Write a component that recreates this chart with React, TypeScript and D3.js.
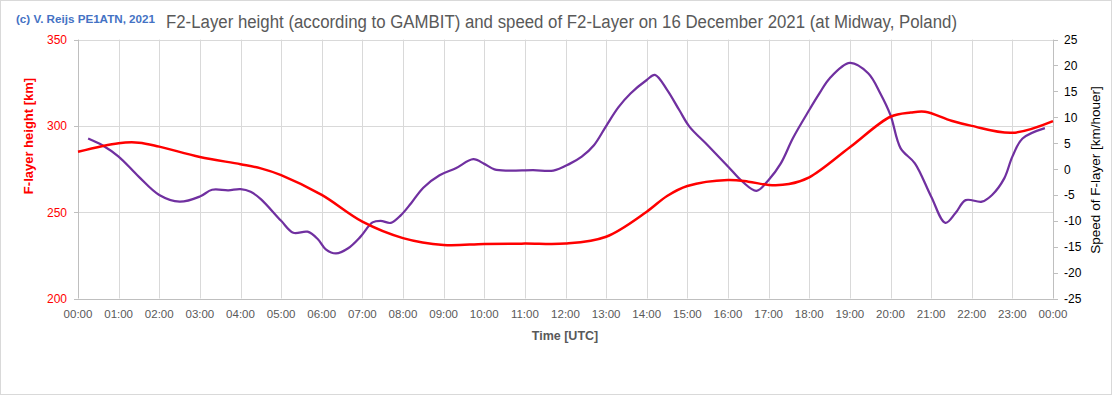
import React, { useEffect, useRef } from "react";
import * as d3 from "d3";

// F2-layer height (km), left axis
const heightHours = [0, 1, 1.5, 2, 3, 4, 4.5, 5, 6, 7, 8, 9, 10, 11, 12, 13, 14, 14.5, 15, 16, 16.5, 17, 17.5, 18, 19, 20, 20.5, 20.85, 21.5, 22, 23, 24];
const heightKm = [285, 290, 290.3, 288, 282, 277.8, 275.4, 271.5, 260, 244.5, 235, 231, 231.6, 231.8, 231.8, 235.8, 250.3, 259.4, 265.2, 268.7, 267.7, 265.8, 266.3, 270.2, 287.6, 305.3, 307.7, 308.2, 303, 300, 296, 302.8];

// speed of F2-layer (km/hour), right axis
const speedHours = [0.25, 0.6, 1, 1.5, 2, 2.5, 3, 3.3, 3.7, 4, 4.25, 4.5, 5, 5.3, 5.65, 5.9, 6.1, 6.35, 6.65, 6.95, 7.25, 7.45, 7.7, 7.95, 8.2, 8.5, 8.9, 9.3, 9.73, 10, 10.25, 10.6, 11.2, 11.7, 12.1, 12.4, 12.7, 13, 13.3, 13.6, 14, 14.2, 14.5, 14.8, 15.05, 15.5, 16, 16.35, 16.7, 17, 17.3, 17.6, 18, 18.25, 18.5, 19, 19.45, 19.75, 20, 20.25, 20.6, 21, 21.35, 21.6, 21.85, 22.25, 22.5, 22.8, 23, 23.25, 23.8];
const speedKmh = [5.9, 4.6, 2.4, -1.5, -5.0, -6.3, -5.3, -4.0, -4.1, -3.9, -4.4, -5.8, -10.0, -12.3, -12.1, -13.5, -15.5, -16.3, -15.3, -13.1, -10.3, -10.0, -10.4, -8.9, -6.6, -3.6, -1.2, 0.15, 1.9, 1.0, -0.05, -0.3, -0.2, -0.3, 1.0, 2.4, 4.6, 8.3, 11.9, 14.6, 17.2, 18.2, 15.3, 11.4, 8.2, 4.6, 0.5, -2.4, -4.2, -2.1, 1.1, 6.0, 11.4, 14.6, 17.5, 20.5, 18.5, 14.6, 10.4, 4.0, 1.1, -5.3, -10.4, -8.5, -6.0, -6.3, -5.0, -1.8, 2.4, 5.9, 7.9];

const hourLabels = d3.range(0, 25).map((h) => `${String(h % 24).padStart(2, "0")}:00`);
const leftTicks = [200, 250, 300, 350];
const rightTicks = d3.range(-25, 26, 5);

const W = 1113;
const H = 397;
const font = "'Liberation Sans', Arial, sans-serif";

export default function App() {
  const ref = useRef<SVGSVGElement>(null);

  useEffect(() => {
    document.body.style.margin = "0";
    const svg = d3.select(ref.current);
    svg.selectAll("*").remove();

    const left = 78, right = 1053, top = 39.6, bottom = 298.5;
    const x = d3.scaleLinear().domain([0, 24]).range([left, right]);
    const yL = d3.scaleLinear().domain([200, 350]).range([bottom, top]);
    const yR = d3.scaleLinear().domain([-25, 25]).range([bottom, top]);

    // chart border
    svg.append("rect")
      .attr("x", 0.5).attr("y", 0.5).attr("width", W - 2).attr("height", H - 3)
      .attr("fill", "white").attr("stroke", "#d9d9d9");

    // gridlines
    const grid = svg.append("g").attr("stroke", "#d9d9d9").attr("stroke-width", 1);
    grid.selectAll("line.v")
      .data(d3.range(1, 24))
      .join("line")
      .attr("x1", (d) => Math.round(x(d)) + 0.5).attr("x2", (d) => Math.round(x(d)) + 0.5)
      .attr("y1", top).attr("y2", bottom);
    grid.selectAll("line.h")
      .data([250, 300, 350])
      .join("line")
      .attr("x1", left).attr("x2", right)
      .attr("y1", (d) => Math.round(yL(d)) + 0.5).attr("y2", (d) => Math.round(yL(d)) + 0.5);

    // axis lines
    const ax = svg.append("g").attr("stroke", "#bfbfbf");
    ax.append("line").attr("x1", left + 0.5).attr("x2", left + 0.5).attr("y1", top).attr("y2", bottom);
    ax.append("line").attr("x1", right + 0.5).attr("x2", right + 0.5).attr("y1", top).attr("y2", bottom);
    ax.append("line").attr("x1", left).attr("x2", right).attr("y1", Math.round(bottom) + 0.5).attr("y2", Math.round(bottom) + 0.5);
    ax.selectAll("line.lt").data(leftTicks).join("line")
      .attr("x1", left - 4).attr("x2", left)
      .attr("y1", (d) => Math.round(yL(d)) + 0.5).attr("y2", (d) => Math.round(yL(d)) + 0.5);
    ax.selectAll("line.rt").data(rightTicks).join("line")
      .attr("x1", right).attr("x2", right + 5)
      .attr("y1", (d) => Math.round(yR(d)) + 0.5).attr("y2", (d) => Math.round(yR(d)) + 0.5);

    // tick labels
    svg.append("g").selectAll("text").data(leftTicks).join("text")
      .attr("x", 67).attr("y", (d) => yL(d) + 4.5)
      .attr("text-anchor", "end").attr("fill", "#ff0000")
      .style("font", `12px ${font}`).text((d) => d);
    svg.append("g").selectAll("text").data(rightTicks).join("text")
      .attr("x", 1064).attr("y", (d) => yR(d) + 4.5)
      .attr("fill", "#000").style("font", `12px ${font}`).text((d) => d);
    svg.append("g").selectAll("text").data(hourLabels).join("text")
      .attr("x", (d, i) => x(i)).attr("y", 318)
      .attr("text-anchor", "middle").attr("fill", "#595959")
      .style("font", `11.5px ${font}`).text((d) => d);

    // titles
    svg.append("text").attr("x", 166).attr("y", 28)
      .attr("fill", "#595959").attr("textLength", 791).attr("lengthAdjust", "spacingAndGlyphs")
      .style("font", `18px ${font}`)
      .text("F2-Layer height (according to GAMBIT) and speed of F2-Layer on 16 December 2021 (at Midway, Poland)");
    svg.append("text").attr("x", 16).attr("y", 23)
      .attr("fill", "#4472c4").style("font", `bold 11.5px ${font}`)
      .attr("textLength", 139).attr("lengthAdjust", "spacingAndGlyphs")
      .text("(c) V. Reijs  PE1ATN, 2021");
    svg.append("text").attr("x", 565).attr("y", 340)
      .attr("text-anchor", "middle").attr("fill", "#595959")
      .style("font", `bold 12.5px ${font}`).text("Time [UTC]");
    svg.append("text")
      .attr("transform", "translate(33,136) rotate(-90)")
      .attr("text-anchor", "middle").attr("fill", "#ff0000")
      .style("font", `bold 13px ${font}`).text("F-layer height [km]");
    svg.append("text")
      .attr("transform", "translate(1100,170) rotate(-90)")
      .attr("text-anchor", "middle").attr("fill", "#000")
      .style("font", `13.5px ${font}`).text("Speed of F-layer [km/houer]");

    // series
    const lineL = d3.line<number>()
      .x((d, i) => x(heightHours[i])).y((d) => yL(d))
      .curve(d3.curveCatmullRom.alpha(0.5));
    const lineR = d3.line<number>()
      .x((d, i) => x(speedHours[i])).y((d) => yR(d))
      .curve(d3.curveCatmullRom.alpha(0.5));

    svg.append("path").datum(speedKmh)
      .attr("d", lineR).attr("fill", "none")
      .attr("stroke", "#7030a0").attr("stroke-width", 2.25).attr("stroke-linejoin", "round");
    svg.append("path").datum(heightKm)
      .attr("d", lineL).attr("fill", "none")
      .attr("stroke", "#ff0000").attr("stroke-width", 2.5).attr("stroke-linejoin", "round");
  }, []);

  return <svg ref={ref} width={W} height={H} style={{ display: "block" }}></svg>;
}
